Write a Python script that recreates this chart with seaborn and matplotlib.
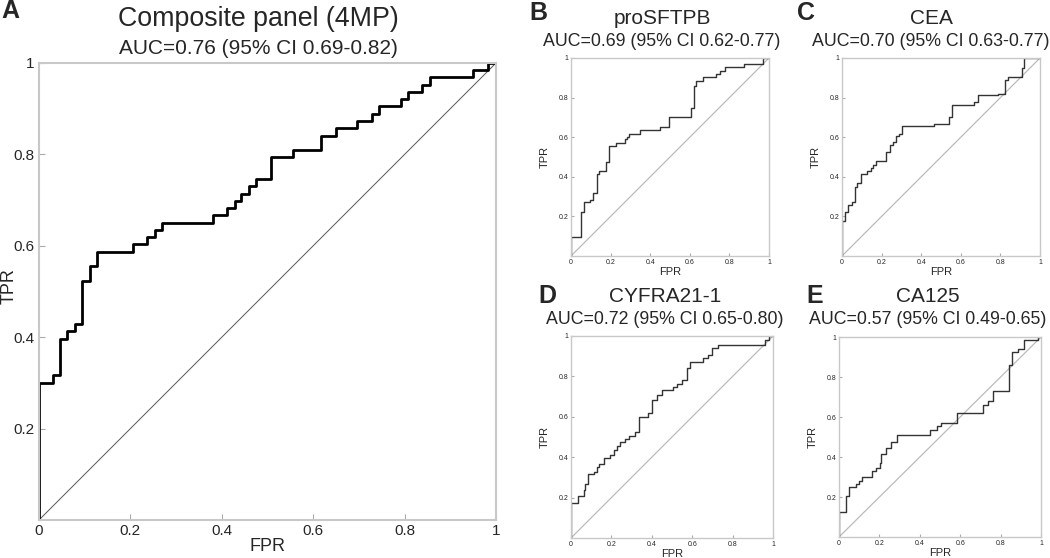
import matplotlib
matplotlib.use("Agg")
import matplotlib.pyplot as plt
import seaborn as sns

sns.set_style("white")
plt.rcParams["font.family"] = ["Liberation Sans", "DejaVu Sans"]

# ROC step points (FPR, TPR)
a_fpr = [0, 0, 0.031, 0.045, 0.061, 0.078, 0.093, 0.111, 0.126, 0.206,
         0.237, 0.254, 0.269, 0.380, 0.411, 0.428, 0.442, 0.459, 0.475, 0.507,
         0.555, 0.618, 0.650, 0.696, 0.729, 0.744, 0.792, 0.808, 0.839, 0.855,
         0.950, 0.983, 1.0]
a_tpr = [0, 0.300, 0.318, 0.397, 0.413, 0.428, 0.523, 0.555, 0.587, 0.603,
         0.619, 0.635, 0.650, 0.667, 0.682, 0.699, 0.714, 0.730, 0.746, 0.794,
         0.810, 0.841, 0.858, 0.874, 0.889, 0.906, 0.921, 0.936, 0.952, 0.969,
         0.984, 1.0, 1.0]

b_fpr = [0, 0, 0.049, 0.066, 0.096, 0.110, 0.130, 0.142, 0.177, 0.194,
         0.226, 0.273, 0.282, 0.293, 0.349, 0.447, 0.496, 0.605, 0.619, 0.631,
         0.669, 0.732, 0.754, 0.776, 0.875, 0.968, 1.0]
b_tpr = [0, 0.096, 0.223, 0.272, 0.285, 0.319, 0.413, 0.430, 0.476, 0.555,
         0.572, 0.589, 0.602, 0.616, 0.636, 0.653, 0.700, 0.745, 0.858, 0.885,
         0.906, 0.919, 0.936, 0.953, 0.968, 1.0, 1.0]

c_fpr = [0, 0, 0.017, 0.030, 0.051, 0.064, 0.078, 0.098, 0.126, 0.145,
         0.157, 0.174, 0.224, 0.241, 0.258, 0.272, 0.287, 0.304, 0.464, 0.540,
         0.556, 0.668, 0.685, 0.789, 0.823, 0.840, 0.899, 0.910, 0.921, 1.0]
c_tpr = [0, 0.177, 0.222, 0.256, 0.273, 0.348, 0.369, 0.416, 0.429, 0.444,
         0.458, 0.478, 0.525, 0.559, 0.576, 0.604, 0.618, 0.655, 0.668, 0.702,
         0.761, 0.778, 0.811, 0.820, 0.887, 0.904, 0.904, 0.950, 1.0, 1.0]

d_fpr = [0, 0, 0.033, 0.063, 0.071, 0.082, 0.112, 0.128, 0.140, 0.161,
         0.194, 0.211, 0.227, 0.243, 0.268, 0.285, 0.317, 0.336, 0.383, 0.403,
         0.428, 0.449, 0.507, 0.523, 0.548, 0.572, 0.589, 0.655, 0.679, 0.696,
         0.729, 0.959, 0.980, 1.0]
d_tpr = [0, 0.173, 0.206, 0.239, 0.269, 0.318, 0.329, 0.351, 0.367, 0.395,
         0.412, 0.437, 0.453, 0.473, 0.489, 0.506, 0.527, 0.601, 0.618, 0.684,
         0.708, 0.733, 0.746, 0.763, 0.783, 0.840, 0.873, 0.890, 0.906, 0.939,
         0.954, 0.980, 1.0, 1.0]

e_fpr = [0, 0, 0.036, 0.050, 0.083, 0.098, 0.116, 0.164, 0.185, 0.202,
         0.210, 0.235, 0.256, 0.289, 0.421, 0.450, 0.483, 0.507, 0.582, 0.686,
         0.714, 0.739, 0.764, 0.841, 0.855, 0.888, 0.917, 0.983, 1.0]
e_tpr = [0, 0.125, 0.203, 0.252, 0.266, 0.281, 0.302, 0.332, 0.345, 0.369,
         0.415, 0.444, 0.477, 0.510, 0.510, 0.535, 0.556, 0.571, 0.621, 0.621,
         0.659, 0.681, 0.731, 0.859, 0.925, 0.939, 0.987, 1.0, 1.0]

letters = ["A", "B", "C", "D", "E"]
names = ["Composite panel (4MP)", "proSFTPB", "CEA", "CYFRA21-1", "CA125"]
aucs = ["AUC=0.76 (95% CI 0.69-0.82)", "AUC=0.69 (95% CI 0.62-0.77)",
        "AUC=0.70 (95% CI 0.63-0.77)", "AUC=0.72 (95% CI 0.65-0.80)",
        "AUC=0.57 (95% CI 0.49-0.65)"]
curves = [(a_fpr, a_tpr), (b_fpr, b_tpr), (c_fpr, c_tpr), (d_fpr, d_tpr), (e_fpr, e_tpr)]
ticks = [0, 0.2, 0.4, 0.6, 0.8, 1]
tick_labels = ["0", "0.2", "0.4", "0.6", "0.8", "1"]

W, H = 1050, 558
fig = plt.figure(figsize=(W / 100, H / 100), dpi=100)

# pixel boxes: left, top, right, bottom
boxes = [(39, 63, 496, 520), (571, 58, 769, 256), (842, 58, 1040, 256),
         (571, 336, 773, 538), (839, 337, 1041, 537)]
# letter, title, auc text positions (px)
letter_xy = [(10, 11), (538, 13), (806, 13), (547, 296), (815, 296)]
title_xy = [(258, 19), (662, 18), (931, 18), (665, 297), (928, 297)]
auc_xy = [(258, 48), (662, 42), (931, 42), (665, 319), (928, 319)]

for i in range(5):
    l, t, r, b = boxes[i]
    ax = fig.add_axes([l / W, 1 - b / H, (r - l) / W, (b - t) / H])
    big = i == 0
    sns.lineplot(x=[0, 1], y=[0, 1], ax=ax, color="#555555" if big else "#bbbbbb",
                 lw=0.7 if big else 0.9)
    fpr, tpr = curves[i]
    sns.lineplot(x=fpr, y=tpr, ax=ax, sort=False, estimator=None,
                 drawstyle="steps-post", color="black" if big else "#333333",
                 lw=2.0 if big else 1.0)
    ax.set_xlim(0, 1)
    ax.set_ylim(0, 1)
    ax.set_xticks(ticks)
    ax.set_xticklabels(tick_labels)
    ax.set_yticks(ticks[1:])
    ax.set_yticklabels(tick_labels[1:])
    fs = 11 if big else 5
    ax.tick_params(direction="in", length=4 if big else 2, width=0.8,
                   color="#aaaaaa", labelsize=fs, pad=3 if big else 2,
                   bottom=True, left=True)
    for s in ax.spines.values():
        s.set_color("#c8c8c8")
        s.set_linewidth(1.5 if big else 1.0)
    if big:
        ax.set_xlabel("FPR", fontsize=13, labelpad=0)
        ax.set_ylabel("")
        fig.text(9 / W, 1 - 286 / H, "TPR", fontsize=13, rotation=90,
                 ha="center", va="center")
    else:
        ax.set_xlabel("FPR", fontsize=8, labelpad=1)
        ax.set_ylabel("TPR", fontsize=8, labelpad=6)

    fig.text(letter_xy[i][0] / W, 1 - letter_xy[i][1] / H, letters[i],
             fontsize=18, fontweight="bold", ha="center", va="center")
    fig.text(title_xy[i][0] / W, 1 - title_xy[i][1] / H, names[i],
             fontsize=19.3 if big else 15, ha="center", va="center")
    fig.text(auc_xy[i][0] / W, 1 - auc_xy[i][1] / H, aucs[i],
             fontsize=15 if big else 12.8, ha="center", va="center")

fig.savefig("out.png", dpi=100)
